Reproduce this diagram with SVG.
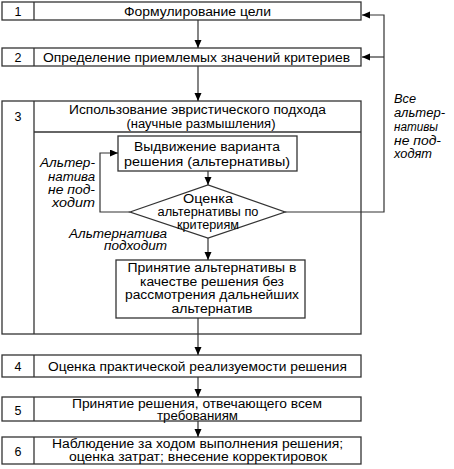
<svg xmlns="http://www.w3.org/2000/svg" width="454" height="469" viewBox="0 0 454 469">
<defs>
<marker id="arr" markerUnits="userSpaceOnUse" markerWidth="9" markerHeight="8" refX="8" refY="3.5" orient="auto">
<path d="M0,0 L8,3.5 L0,7 z" fill="#000"/>
</marker>
<style>
.box{fill:#fff;stroke:#333;stroke-width:1.3}
.div{stroke:#333;stroke-width:1.3;fill:none}
.t{font-family:"Liberation Sans",Arial,sans-serif;font-size:12.5px;fill:#000;text-anchor:middle}
.i{font-family:"Liberation Sans",Arial,sans-serif;font-size:12.5px;font-style:italic;fill:#000}
.e{text-anchor:end}
.c{stroke:#333;stroke-width:1.2;fill:none}
.ca{stroke:#333;stroke-width:1.2;fill:none;marker-end:url(#arr)}
</style>
</defs>
<rect width="454" height="469" fill="#fff"/>

<g id="node1">
<rect class="box" x="2" y="2" width="359" height="18"/>
<line class="div" x1="34" y1="2" x2="34" y2="20"/>
<text class="t" x="18" y="15.5">1</text>
<text class="t" x="197.5" y="15.5" textLength="147" lengthAdjust="spacingAndGlyphs">Формулирование цели</text>
</g>

<g id="node2">
<rect class="box" x="2" y="48" width="359" height="18"/>
<line class="div" x1="34" y1="48" x2="34" y2="66"/>
<text class="t" x="18" y="61.5">2</text>
<text class="t" x="196.5" y="61.5" textLength="307" lengthAdjust="spacingAndGlyphs">Определение приемлемых значений критериев</text>
</g>

<g id="node3">
<rect class="box" x="2" y="101" width="359" height="233"/>
<line class="div" x1="34" y1="101" x2="34" y2="334"/>
<line class="div" x1="34" y1="132" x2="361" y2="132"/>
<text class="t" x="18" y="120.5">3</text>
<text class="t" x="197.5" y="114" textLength="257" lengthAdjust="spacingAndGlyphs">Использование эвристического подхода</text>
<text class="t" x="201" y="128" textLength="149" lengthAdjust="spacingAndGlyphs">(научные размышления)</text>
</g>

<g id="node3a">
<rect class="box" x="118" y="136" width="179" height="35"/>
<text class="t" x="207" y="151" textLength="146" lengthAdjust="spacingAndGlyphs">Выдвижение варианта</text>
<text class="t" x="207" y="166" textLength="166" lengthAdjust="spacingAndGlyphs">решения (альтернативы)</text>
</g>

<g id="node3b">
<polygon class="box" points="130,212 208,185 285,212 208,238"/>
<text class="t" x="208" y="203" textLength="50" lengthAdjust="spacingAndGlyphs">Оценка</text>
<text class="t" x="208" y="216" textLength="101" lengthAdjust="spacingAndGlyphs">альтернативы по</text>
<text class="t" x="208" y="229" textLength="62" lengthAdjust="spacingAndGlyphs">критериям</text>
</g>

<g id="node3c">
<rect class="box" x="116" y="260" width="189" height="58"/>
<text class="t" x="212" y="272" textLength="169" lengthAdjust="spacingAndGlyphs">Принятие альтернативы в</text>
<text class="t" x="212" y="285.5" textLength="144" lengthAdjust="spacingAndGlyphs">качестве решения без</text>
<text class="t" x="212" y="299" textLength="174" lengthAdjust="spacingAndGlyphs">рассмотрения дальнейших</text>
<text class="t" x="212" y="312.5" textLength="81" lengthAdjust="spacingAndGlyphs">альтернатив</text>
</g>

<g id="node4">
<rect class="box" x="2" y="355" width="359" height="22"/>
<line class="div" x1="34" y1="355" x2="34" y2="377"/>
<text class="t" x="18" y="370.5">4</text>
<text class="t" x="197.5" y="370.5" textLength="299" lengthAdjust="spacingAndGlyphs">Оценка практической реализуемости решения</text>
</g>

<g id="node5">
<rect class="box" x="2" y="397" width="359" height="24"/>
<line class="div" x1="34" y1="397" x2="34" y2="421"/>
<text class="t" x="18" y="414.5">5</text>
<text class="t" x="197" y="407.5" textLength="250" lengthAdjust="spacingAndGlyphs">Принятие решения, отвечающего всем</text>
<text class="t" x="197.5" y="420" textLength="81" lengthAdjust="spacingAndGlyphs">требованиям</text>
</g>

<g id="node6">
<rect class="box" x="2" y="437" width="359" height="27"/>
<line class="div" x1="34" y1="437" x2="34" y2="464"/>
<text class="t" x="18" y="455.5">6</text>
<text class="t" x="197.5" y="448" textLength="291" lengthAdjust="spacingAndGlyphs">Наблюдение за ходом выполнения решения;</text>
<text class="t" x="198" y="461" textLength="258" lengthAdjust="spacingAndGlyphs">оценка затрат; внесение корректировок</text>
</g>

<g id="connectors">
<line class="ca" x1="198" y1="20" x2="198" y2="48"/>
<line class="ca" x1="198" y1="66" x2="198" y2="101"/>
<line class="ca" x1="208" y1="171" x2="208" y2="185"/>
<line class="ca" x1="208" y1="238" x2="208" y2="260"/>
<line class="ca" x1="198" y1="318" x2="198" y2="355"/>
<line class="ca" x1="198" y1="377" x2="198" y2="397"/>
<line class="ca" x1="198" y1="421" x2="198" y2="437"/>
<polyline class="ca" points="130,212 100,212 100,153 118,153"/>
<polyline class="ca" points="285,212 384,212 384,15 362,15"/>
<line class="ca" x1="384" y1="57" x2="362" y2="57"/>
</g>

<g id="labels">
<text class="i" x="394" y="103" textLength="22" lengthAdjust="spacingAndGlyphs">Все</text>
<text class="i" x="394" y="117" textLength="51" lengthAdjust="spacingAndGlyphs">альтер-</text>
<text class="i" x="394" y="131" textLength="44" lengthAdjust="spacingAndGlyphs">нативы</text>
<text class="i" x="394" y="144.5" textLength="47" lengthAdjust="spacingAndGlyphs">не под-</text>
<text class="i" x="394" y="158" textLength="38" lengthAdjust="spacingAndGlyphs">ходят</text>
<text class="i e" x="95" y="167" textLength="55" lengthAdjust="spacingAndGlyphs">Альтер-</text>
<text class="i e" x="95" y="180.5" textLength="47" lengthAdjust="spacingAndGlyphs">натива</text>
<text class="i e" x="95" y="194" textLength="47" lengthAdjust="spacingAndGlyphs">не под-</text>
<text class="i e" x="95" y="207" textLength="43" lengthAdjust="spacingAndGlyphs">ходит</text>
<text class="i e" x="167" y="237.5" textLength="98" lengthAdjust="spacingAndGlyphs">Альтернатива</text>
<text class="i e" x="167" y="250" textLength="63" lengthAdjust="spacingAndGlyphs">подходит</text>
</g>
</svg>
